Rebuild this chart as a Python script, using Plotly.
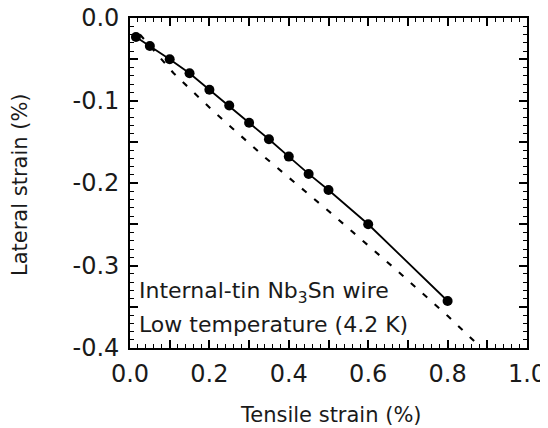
import plotly.graph_objects as go

# measured data (tensile strain %, lateral strain %)
tensile = [0.015, 0.05, 0.10, 0.15, 0.20, 0.25, 0.30, 0.35, 0.40, 0.45, 0.50, 0.60, 0.80]
lateral = [-0.023, -0.034, -0.050, -0.067, -0.087, -0.106, -0.127, -0.147, -0.168, -0.189, -0.2085, -0.250, -0.343]

# reference (dashed) curve
ref_x = [0.025, 0.08, 0.11, 0.21, 0.34, 0.51, 0.67, 0.80, 0.885]
ref_y = [-0.020, -0.051, -0.067, -0.113, -0.169, -0.238, -0.305, -0.361, -0.400]

x_tickvals = [0.0, 0.1, 0.2, 0.3, 0.4, 0.5, 0.6, 0.7, 0.8, 0.9, 1.0]
x_ticktext = ["0.0", "", "0.2", "", "0.4", "", "0.6", "", "0.8", "", "1.0"]
y_tickvals = [0.0, -0.05, -0.1, -0.15, -0.2, -0.25, -0.3, -0.35, -0.4]
y_ticktext = ["0.0", "", "-0.1", "", "-0.2", "", "-0.3", "", "-0.4"]

FONT = "DejaVu Sans"
TXT = "#1a1a1a"

fig = go.Figure()
fig.add_trace(go.Scatter(x=ref_x, y=ref_y, mode="lines",
                         line=dict(color="black", width=2.1, dash="6px,10px"),
                         showlegend=False, hoverinfo="skip"))
fig.add_trace(go.Scatter(x=tensile, y=lateral, mode="lines+markers",
                         line=dict(color="black", width=1.8),
                         marker=dict(color="black", size=10),
                         showlegend=False))

fig.add_annotation(x=0.017, y=-0.333, xref="x", yref="y", xanchor="left", yanchor="middle",
                   text="Internal-tin Nb<sub>3</sub>Sn wire", showarrow=False,
                   font=dict(family=FONT, size=22, color=TXT))
fig.add_annotation(x=0.017, y=-0.372, xref="x", yref="y", xanchor="left", yanchor="middle",
                   text="Low temperature (4.2 K)", showarrow=False,
                   font=dict(family=FONT, size=22, color=TXT))

# axis titles
fig.add_annotation(x=0.506, y=-0.203, xref="paper", yref="paper", xanchor="center", yanchor="middle",
                   text="Tensile strain (%)", showarrow=False,
                   font=dict(family=FONT, size=21, color=TXT))
fig.add_annotation(x=-0.277, y=0.494, xref="paper", yref="paper", xanchor="center", yanchor="middle",
                   text="Lateral strain (%)", showarrow=False, textangle=-90,
                   font=dict(family=FONT, size=21, color=TXT))

axis_common = dict(showgrid=False, zeroline=False, showline=True, linecolor="black",
                   linewidth=1.8, mirror="allticks", ticks="inside", tickcolor="black",
                   tickwidth=1.5, ticklen=8, automargin=False, ticklabeloverflow="allow",
                   tickfont=dict(family=FONT, size=24, color=TXT))

fig.update_xaxes(range=[0, 1.0], tickmode="array", tickvals=x_tickvals, ticktext=x_ticktext,
                 minor=dict(dtick=0.02, ticks="inside", ticklen=4, tickcolor="black", tickwidth=1.3,
                            showgrid=False),
                 ticklabelstandoff=3,
                 **axis_common)
fig.update_yaxes(range=[-0.4, 0.0], tickmode="array", tickvals=y_tickvals, ticktext=y_ticktext,
                 minor=dict(dtick=0.01, ticks="inside", ticklen=4, tickcolor="black", tickwidth=1.3,
                            showgrid=False),
                 ticklabelstandoff=4,
                 **axis_common)

# page body adds an 8px offset, so the figure is sized to fit the window
fig.update_layout(width=540, height=420,
                  margin=dict(l=122, r=21, t=10, b=80),
                  plot_bgcolor="white", paper_bgcolor="white",
                  font=dict(family=FONT, color=TXT))

fig.write_html("out.html")
